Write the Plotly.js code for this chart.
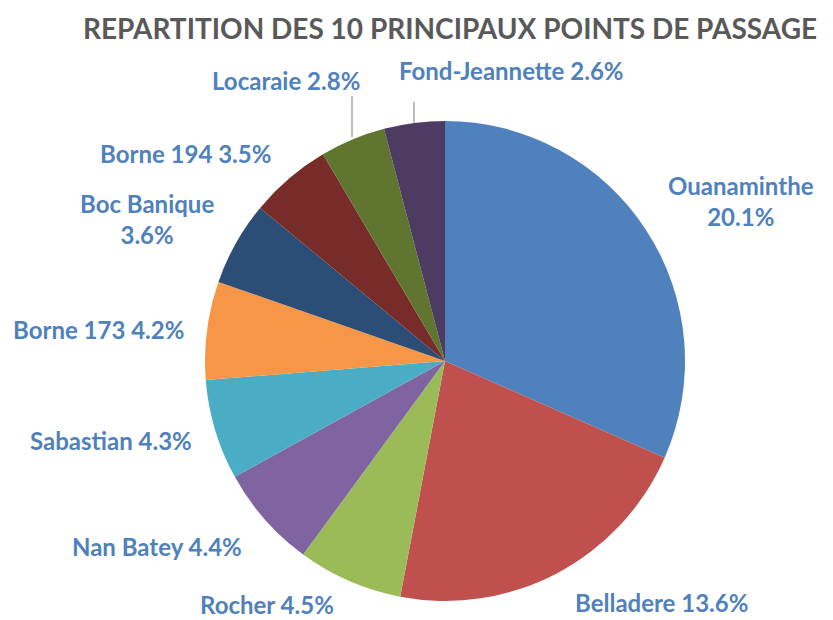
<!DOCTYPE html>
<html>
<head>
<meta charset="utf-8">
<script src="https://cdn.plot.ly/plotly-3.0.1.min.js"></script>
<style>html,body{margin:0;padding:0;background:#fff;}#chart{width:833px;height:620px;}</style>
</head>
<body>
<div id="chart"></div>
<script>
const categories = ['Ouanaminthe', 'Belladere', 'Rocher', 'Nan Batey', 'Sabastian', 'Borne 173', 'Boc Banique', 'Borne 194', 'Locaraie', 'Fond-Jeannette'];
const shares = [20.1, 13.6, 4.5, 4.4, 4.3, 4.2, 3.6, 3.5, 2.8, 2.6];
const sliceColors = ['#4F81BD', '#C0504D', '#9BBB59', '#8064A2', '#4BACC6', '#F79646', '#2C4D75', '#772C2A', '#5F7530', '#4D3B62'];

// label layout (pixel positions of label centres), and line breaks
const labelPos = [
  {x: 741, y: 201, br: true},
  {x: 661, y: 602},
  {x: 267, y: 604},
  {x: 157, y: 546},
  {x: 111, y: 440},
  {x: 98, y: 329},
  {x: 147, y: 219, br: true},
  {x: 185, y: 153},
  {x: 286, y: 80, line: [352, 96, 352, 137]},
  {x: 511, y: 70, line: [414, 102, 414, 123]}
];

const W = 833, H = 620;
const annotations = [];
const shapes = [];
categories.forEach((c, i) => {
  const p = labelPos[i];
  const txt = c + (p.br ? '<br>' : ' ') + shares[i].toFixed(1) + '%';
  annotations.push({
    text: txt, xref: 'paper', yref: 'paper',
    x: p.x / W, y: 1 - p.y / H, xanchor: 'center', yanchor: 'middle',
    showarrow: false,
    font: {family: 'Lato, "Open Sans", sans-serif', size: 24, color: '#4F81BD', weight: 'bold'}
  });
  if (p.line) {
    shapes.push({type: 'line', xref: 'paper', yref: 'paper',
      x0: p.line[0] / W, y0: 1 - p.line[1] / H, x1: p.line[2] / W, y1: 1 - p.line[3] / H,
      line: {color: '#A6A6A6', width: 1.5}});
  }
});

const cx = 445, cy = 361, r = 240;
const trace = {
  type: 'pie',
  labels: categories,
  values: shares,
  sort: false,
  direction: 'clockwise',
  rotation: 0,
  textinfo: 'none',
  hoverinfo: 'label+text',
  marker: {colors: sliceColors, line: {width: 0}},
  domain: {x: [(cx - r) / W, (cx + r) / W], y: [1 - (cy + r) / H, 1 - (cy - r) / H]},
  showlegend: false
};

const layout = {
  width: W, height: H,
  margin: {l: 0, r: 0, t: 0, b: 0},
  paper_bgcolor: '#ffffff',
  showlegend: false,
  title: {
    text: 'REPARTITION DES 10 PRINCIPAUX POINTS DE PASSAGE',
    x: 450 / W, xanchor: 'center', y: 1 - 29 / H, yanchor: 'middle',
    font: {family: 'Lato, "Open Sans", sans-serif', size: 28, color: '#595959', weight: 'bold'}
  },
  annotations: annotations,
  shapes: shapes
};

Plotly.newPlot('chart', [trace], layout, {displayModeBar: false, staticPlot: true});
</script>
</body>
</html>
